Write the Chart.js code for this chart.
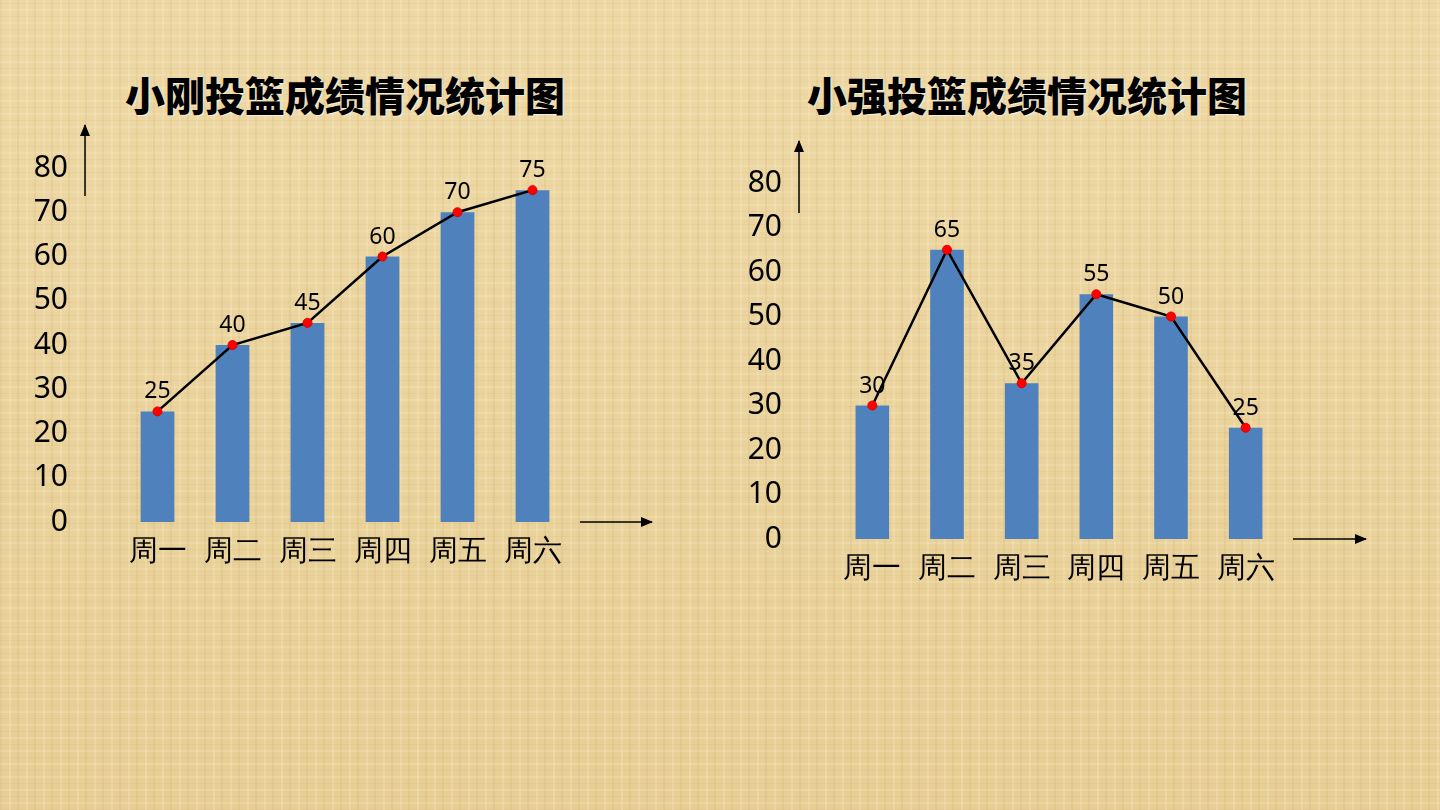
<!DOCTYPE html>
<html>
<head>
<meta charset="utf-8">
<script src="https://cdn.jsdelivr.net/npm/chart.js@4"></script>
<style>
  html, body { margin: 0; padding: 0; }
  body {
    width: 1440px; height: 810px; position: relative; overflow: hidden;
    background-color: #ead49f;
    background-image:
      repeating-linear-gradient(90deg, rgba(170,130,60,0.09) 0 2px, transparent 2px 9px, rgba(255,245,215,0.2) 9px 11px, transparent 11px 17px),
      repeating-linear-gradient(0deg, rgba(170,130,60,0.07) 0 1px, transparent 1px 6px, rgba(255,245,215,0.17) 6px 8px, transparent 8px 13px),
      linear-gradient(180deg, rgba(255,240,200,0.15), rgba(215,170,90,0.15));
    font-family: "Noto Sans CJK SC", "Noto Sans", sans-serif;
  }
  .title {
    position: absolute; top: 67px; width: 600px; text-align: center;
    font-size: 40px; font-weight: 900; color: #000; line-height: 54px;
    text-shadow: 1px 1px 1px rgba(255,255,255,0.6);
  }
  .wrap { position: absolute; top: 0; width: 720px; height: 810px; }
  svg { position: absolute; left: 0; top: 0; }
</style>
</head>
<body>
<div class="title" style="left:45px">小刚投篮成绩情况统计图</div>
<div class="title" style="left:727px">小强投篮成绩情况统计图</div>
<div class="wrap" style="left:0"><canvas id="chartGang"></canvas></div>
<div class="wrap" style="left:720px"><canvas id="chartQiang"></canvas></div>
<svg width="1440" height="810">
  <defs>
    <marker id="ah" markerWidth="12" markerHeight="10" refX="11" refY="5" orient="auto" markerUnits="userSpaceOnUse">
      <path d="M0,0 L12,5 L0,10 z" fill="#000"/>
    </marker>
  </defs>
  <g stroke="#000" stroke-width="1.5" marker-end="url(#ah)">
    <line x1="85" y1="196" x2="85" y2="125"/>
    <line x1="580" y1="522" x2="652" y2="522"/>
    <line x1="799" y1="213" x2="799" y2="141"/>
    <line x1="1293" y1="539" x2="1366" y2="539"/>
  </g>
</svg>
<script>
const days = ['周一', '周二', '周三', '周四', '周五', '周六'];
const gangScores = [25, 40, 45, 60, 70, 75];
const qiangScores = [30, 65, 35, 55, 50, 25];
const yTicks = [0, 10, 20, 30, 40, 50, 60, 70, 80];

const labelFont = '"Noto Sans", "Open Sans", sans-serif';

// draws value labels above the line points
const pointLabels = {
    id: 'pointLabels',
    afterDatasetsDraw(chart) {
        const ctx = chart.ctx;
        chart.data.datasets.forEach((ds, i) => {
            if (ds.type !== 'line') return;
            const meta = chart.getDatasetMeta(i);
            ctx.save();
            ctx.font = '23px ' + labelFont;
            ctx.fillStyle = '#000';
            ctx.textAlign = 'center';
            ctx.textBaseline = 'bottom';
            meta.data.forEach((pt, j) => {
                ctx.fillText(ds.data[j], pt.x, pt.y - 8);
            });
            ctx.restore();
        });
    }
};

function makeChart(id, values, pad, yWidth, tickPad) {
    return new Chart(document.getElementById(id), {
        type: 'bar',
        data: {
            labels: days,
            datasets: [{
                type: 'line',
                data: values,
                borderColor: '#000',
                borderWidth: 2.5,
                pointBackgroundColor: '#ff0000',
                pointBorderColor: '#e00000',
                pointBorderWidth: 1,
                pointRadius: 4.5,
                tension: 0,
                order: 0
            }, {
                type: 'bar',
                data: values,
                backgroundColor: '#4f81bd',
                categoryPercentage: 1,
                barPercentage: 0.45,
                order: 1
            }]
        },
        options: {
            responsive: false,
            animation: false,
            layout: { padding: pad },
            plugins: { legend: { display: false }, tooltip: { enabled: false } },
            scales: {
                x: {
                    grid: { display: false, drawTicks: false },
                    border: { display: false },
                    ticks: { color: '#000', font: { size: 29, family: labelFont }, padding: 12 },
                    afterFit(scale) { scale.height = 100; }
                },
                y: {
                    min: 0,
                    max: 80,
                    grid: { display: false, drawTicks: false },
                    border: { display: false },
                    afterBuildTicks(scale) { scale.ticks = yTicks.map(v => ({ value: v })); },
                    ticks: { color: '#000', font: { size: 30, family: labelFont }, padding: tickPad },
                    afterFit(scale) { scale.width = yWidth; }
                }
            }
        },
        plugins: [pointLabels]
    });
}

document.getElementById('chartGang').width = 720;
document.getElementById('chartGang').height = 810;
document.getElementById('chartQiang').width = 720;
document.getElementById('chartQiang').height = 810;

makeChart('chartGang', gangScores, { left: 0, right: 150, top: 168, bottom: 188 }, 120, 52);
makeChart('chartQiang', qiangScores, { left: 0, right: 157, top: 183, bottom: 171 }, 115, 53);
</script>
</body>
</html>
